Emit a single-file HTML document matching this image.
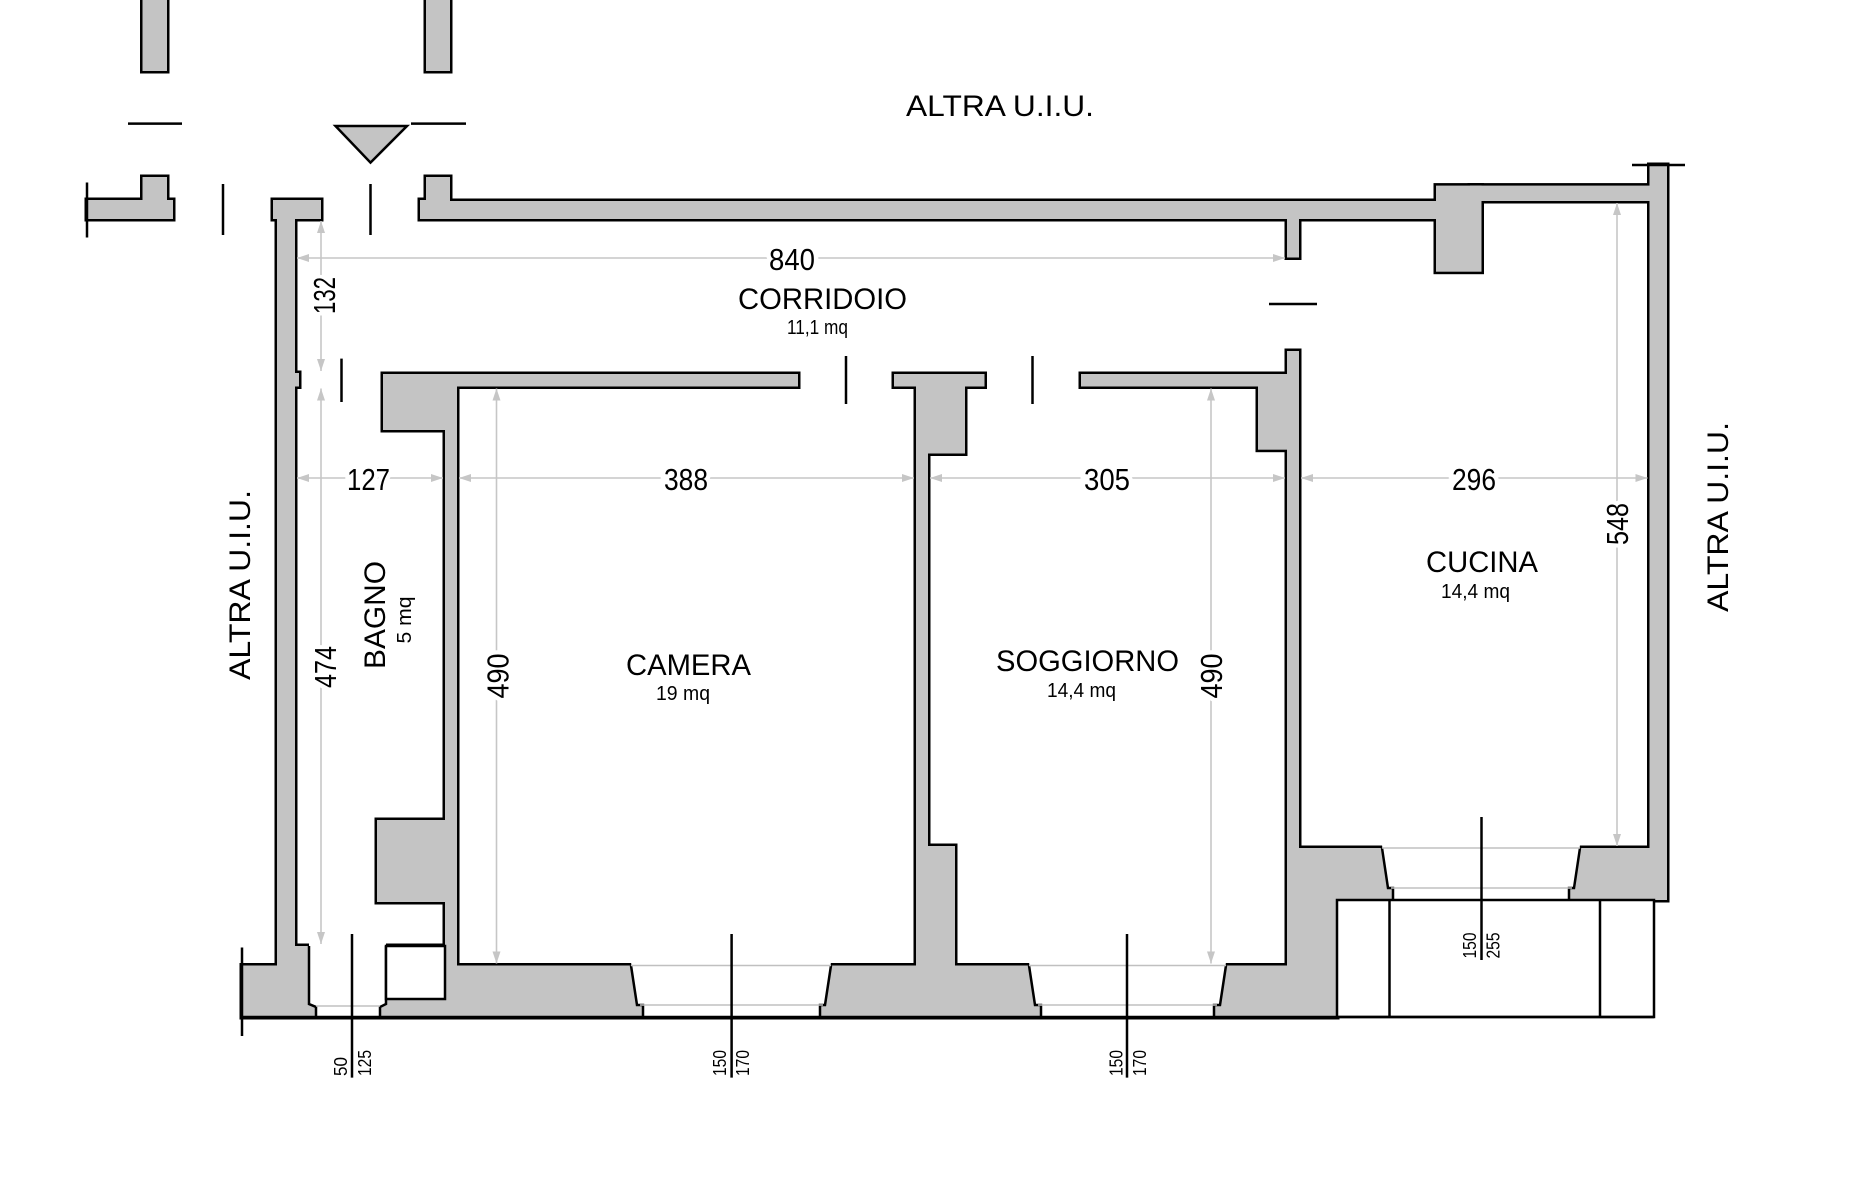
<!DOCTYPE html>
<html><head><meta charset="utf-8"><style>
html,body{margin:0;padding:0;background:#fff;}
svg{display:block;}
text{font-family:"Liberation Sans",sans-serif;fill:#000;}
.n{font-size:31px;paint-order:stroke;stroke:#fff;stroke-width:10px;text-anchor:middle;}
.lab{font-size:30px;}
.sm{font-size:20px;}
.fr{font-size:18px;text-anchor:middle;dominant-baseline:central;}
.dim{stroke:#c6c6c6;stroke-width:1.6;fill:none;marker-start:url(#a);marker-end:url(#a);}
.k{stroke:#000;stroke-width:2.5;fill:none;}
.g{stroke:#c0c0c0;stroke-width:1.6;fill:none;}
</style></head><body>
<svg width="1863" height="1199" viewBox="0 0 1863 1199" xmlns="http://www.w3.org/2000/svg">
<defs>
<marker id="a" viewBox="0 0 12 8" refX="12" refY="4" markerWidth="12" markerHeight="8" markerUnits="userSpaceOnUse" orient="auto-start-reverse"><path d="M0,0 L12,4 L0,8 z" fill="#c6c6c6"/></marker>
<g id="w">
<rect x="142.5" y="-10" width="24.5" height="81"/>
<rect x="426" y="-10" width="24" height="81"/>
<polygon points="87,200 142.5,200 142.5,177 167,177 167,200 173,200 173,219 87,219"/>
<polygon points="420,200 426,200 426,177 450,177 450,201 1436,201 1436,219 420,219"/>
<rect x="1287" y="210" width="12" height="47.5"/>
<rect x="1436" y="185.6" width="45.5" height="86.1"/>
<rect x="1470" y="185.6" width="190" height="15.4"/>
<rect x="1649.5" y="165" width="17.5" height="735"/>
<rect x="1299" y="848" width="368" height="52"/>
<rect x="1299" y="848" width="38" height="169"/>
<rect x="242" y="965.5" width="1095" height="51.5"/>
<rect x="277" y="210" width="18" height="760"/>
<rect x="273" y="200" width="48" height="19"/>
<rect x="290" y="373" width="9" height="13.5"/>
<rect x="290" y="946" width="160" height="30"/>
<rect x="377" y="820" width="75" height="82"/>
<rect x="445" y="374" width="12" height="596"/>
<rect x="383" y="374" width="415" height="12.5"/>
<rect x="383" y="380" width="70" height="50"/>
<rect x="894" y="374" width="90.5" height="12.5"/>
<rect x="916" y="374" width="12" height="596"/>
<rect x="920" y="380" width="45" height="73.5"/>
<rect x="916" y="846" width="39" height="125"/>
<rect x="1081" y="374" width="206" height="12.5"/>
<rect x="1258" y="380" width="29" height="69.7"/>
<rect x="1287" y="351" width="12" height="666"/>
</g>
</defs>
<use href="#w" fill="#000" stroke="#000" stroke-width="5"/>
<use href="#w" fill="#c4c4c4"/>

<!-- windows -->
<polygon points="309,942 386,942 386,1004 380,1007 380,1017 316,1017 316,1007 309,1004" fill="#fff"/>
<polyline class="k" points="309,946 309,1004 316,1007 316,1017"/>
<polyline class="k" points="386,946 386,1004 380,1007 380,1017"/>
<line class="g" x1="316" y1="1006" x2="380" y2="1006"/>
<rect x="386" y="946" width="59" height="53" fill="#fff" stroke="#000" stroke-width="2.5"/>

<polygon points="631,962 831,962 825,1005 820,1005 820,1017 643,1017 643,1005 637,1005" fill="#fff"/>
<polyline class="k" points="631,965.5 637,1005 643,1005 643,1017"/>
<polyline class="k" points="831,965.5 825,1005 820,1005 820,1017"/>
<line class="g" x1="631" y1="965.5" x2="831" y2="965.5"/><line class="g" x1="640" y1="1005" x2="823" y2="1005"/>

<polygon points="1029,962 1226,962 1220,1005 1214,1005 1214,1017 1041,1017 1041,1005 1035,1005" fill="#fff"/>
<polyline class="k" points="1029,965.5 1035,1005 1041,1005 1041,1017"/>
<polyline class="k" points="1226,965.5 1220,1005 1214,1005 1214,1017"/>
<line class="g" x1="1029" y1="965.5" x2="1226" y2="965.5"/><line class="g" x1="1038" y1="1005" x2="1217" y2="1005"/>

<polygon points="1382,845 1580,845 1574,888 1569,888 1569,900 1393,900 1393,888 1388,888" fill="#fff"/>
<polyline class="k" points="1382,848 1388,888 1393,888 1393,900"/>
<polyline class="k" points="1580,848 1574,888 1569,888 1569,900"/>
<line class="g" x1="1382" y1="848" x2="1580" y2="848"/><line class="g" x1="1391" y1="888" x2="1572" y2="888"/>

<!-- box under cucina -->
<rect x="1337" y="900" width="317" height="117" fill="#fff" stroke="#000" stroke-width="2.5"/>
<line class="k" x1="1389.5" y1="900" x2="1389.5" y2="1017"/>
<line class="k" x1="1600" y1="900" x2="1600" y2="1017"/>
<line class="k" x1="242" y1="1017" x2="1654" y2="1017"/>

<!-- misc lines -->
<line class="k" x1="128" y1="123.6" x2="182" y2="123.6"/>
<line class="k" x1="411" y1="123.6" x2="466" y2="123.6"/>
<polygon points="335.5,126 407,126 370.5,162.6" fill="#c4c4c4" stroke="#000" stroke-width="2.5"/>
<line class="k" x1="87" y1="182.5" x2="87" y2="237.5"/>
<line class="k" x1="223" y1="184" x2="223" y2="235"/>
<line class="k" x1="370.5" y1="184" x2="370.5" y2="235"/>
<line class="k" x1="341.5" y1="358.6" x2="341.5" y2="402"/>
<line class="k" x1="846" y1="356" x2="846" y2="404"/>
<line class="k" x1="1032.5" y1="356" x2="1032.5" y2="404"/>
<line class="k" x1="1269" y1="304" x2="1317" y2="304"/>
<line class="k" x1="1632" y1="165" x2="1685" y2="165"/>
<line class="k" x1="242" y1="947.5" x2="242" y2="1036"/>
<line class="k" x1="352" y1="934" x2="352" y2="1077.6"/>
<line class="k" x1="731.6" y1="934" x2="731.6" y2="1077.6"/>
<line class="k" x1="1127" y1="934" x2="1127" y2="1077.6"/>
<line class="k" x1="1481.5" y1="817" x2="1481.5" y2="960"/>

<!-- dimensions -->
<line class="dim" x1="297" y1="258" x2="1285" y2="258"/>
<line class="dim" x1="321" y1="221" x2="321" y2="371"/>
<line class="dim" x1="321" y1="388.5" x2="321" y2="944"/>
<line class="dim" x1="297" y1="478" x2="443" y2="478"/>
<line class="dim" x1="459" y1="478" x2="914" y2="478"/>
<line class="dim" x1="930" y1="478" x2="1285" y2="478"/>
<line class="dim" x1="1301" y1="478" x2="1647.5" y2="478"/>
<line class="dim" x1="496.5" y1="388.5" x2="496.5" y2="963.5"/>
<line class="dim" x1="1211" y1="388.5" x2="1211" y2="963.5"/>
<line class="dim" x1="1617" y1="203" x2="1617" y2="846"/>

<text class="n" x="792" y="270" textLength="46" lengthAdjust="spacingAndGlyphs">840</text>
<text class="n" x="368.5" y="490" textLength="43" lengthAdjust="spacingAndGlyphs">127</text>
<text class="n" x="686" y="490" textLength="44" lengthAdjust="spacingAndGlyphs">388</text>
<text class="n" x="1107" y="490" textLength="46" lengthAdjust="spacingAndGlyphs">305</text>
<text class="n" x="1474" y="490" textLength="44" lengthAdjust="spacingAndGlyphs">296</text>
<text class="n" x="324" y="295.5" dy="11" transform="rotate(-90 324 295.5)" textLength="37" lengthAdjust="spacingAndGlyphs">132</text>
<text class="n" x="325" y="667" dy="11" transform="rotate(-90 325 667)" textLength="42" lengthAdjust="spacingAndGlyphs">474</text>
<text class="n" x="497.5" y="676" dy="11" transform="rotate(-90 497.5 676)" textLength="45" lengthAdjust="spacingAndGlyphs">490</text>
<text class="n" x="1211" y="676" dy="11" transform="rotate(-90 1211 676)" textLength="45" lengthAdjust="spacingAndGlyphs">490</text>
<text class="n" x="1617" y="524" dy="11" transform="rotate(-90 1617 524)" textLength="42" lengthAdjust="spacingAndGlyphs">548</text>

<!-- labels -->
<text class="lab" x="906" y="116" textLength="188" lengthAdjust="spacingAndGlyphs">ALTRA U.I.U.</text>
<text class="lab" x="239" y="585" dy="11" text-anchor="middle" transform="rotate(-90 239 585)" textLength="190" lengthAdjust="spacingAndGlyphs">ALTRA U.I.U.</text>
<text class="lab" x="1717" y="517" dy="11" text-anchor="middle" transform="rotate(-90 1717 517)" textLength="190" lengthAdjust="spacingAndGlyphs">ALTRA U.I.U.</text>
<text class="lab" x="738" y="309" textLength="169" lengthAdjust="spacingAndGlyphs">CORRIDOIO</text>
<text class="sm" x="787" y="334" textLength="61" lengthAdjust="spacingAndGlyphs">11,1 mq</text>
<text class="lab" x="626" y="675" textLength="125" lengthAdjust="spacingAndGlyphs">CAMERA</text>
<text class="sm" x="656" y="700" textLength="54" lengthAdjust="spacingAndGlyphs">19 mq</text>
<text class="lab" x="996" y="671" textLength="183" lengthAdjust="spacingAndGlyphs">SOGGIORNO</text>
<text class="sm" x="1047" y="697" textLength="69" lengthAdjust="spacingAndGlyphs">14,4 mq</text>
<text class="lab" x="1426" y="572" textLength="112" lengthAdjust="spacingAndGlyphs">CUCINA</text>
<text class="sm" x="1441" y="598" textLength="69" lengthAdjust="spacingAndGlyphs">14,4 mq</text>
<text class="lab" x="374" y="615" dy="11" text-anchor="middle" transform="rotate(-90 374 615)" textLength="108" lengthAdjust="spacingAndGlyphs">BAGNO</text>
<text class="sm" x="404" y="620" dy="7" text-anchor="middle" transform="rotate(-90 404 620)" textLength="47" lengthAdjust="spacingAndGlyphs">5 mq</text>

<text class="fr" x="341" y="1066.5" transform="rotate(-90 341 1066.5)" textLength="19" lengthAdjust="spacingAndGlyphs">50</text>
<text class="fr" x="365" y="1063" transform="rotate(-90 365 1063)" textLength="26" lengthAdjust="spacingAndGlyphs">125</text>
<text class="fr" x="720" y="1063" transform="rotate(-90 720 1063)" textLength="26" lengthAdjust="spacingAndGlyphs">150</text>
<text class="fr" x="743" y="1063" transform="rotate(-90 743 1063)" textLength="26" lengthAdjust="spacingAndGlyphs">170</text>
<text class="fr" x="1116.5" y="1063" transform="rotate(-90 1116.5 1063)" textLength="26" lengthAdjust="spacingAndGlyphs">150</text>
<text class="fr" x="1140" y="1063" transform="rotate(-90 1140 1063)" textLength="26" lengthAdjust="spacingAndGlyphs">170</text>
<text class="fr" x="1470" y="945.5" transform="rotate(-90 1470 945.5)" textLength="26" lengthAdjust="spacingAndGlyphs">150</text>
<text class="fr" x="1493.5" y="945.5" transform="rotate(-90 1493.5 945.5)" textLength="26" lengthAdjust="spacingAndGlyphs">255</text>
</svg>
</body></html>
